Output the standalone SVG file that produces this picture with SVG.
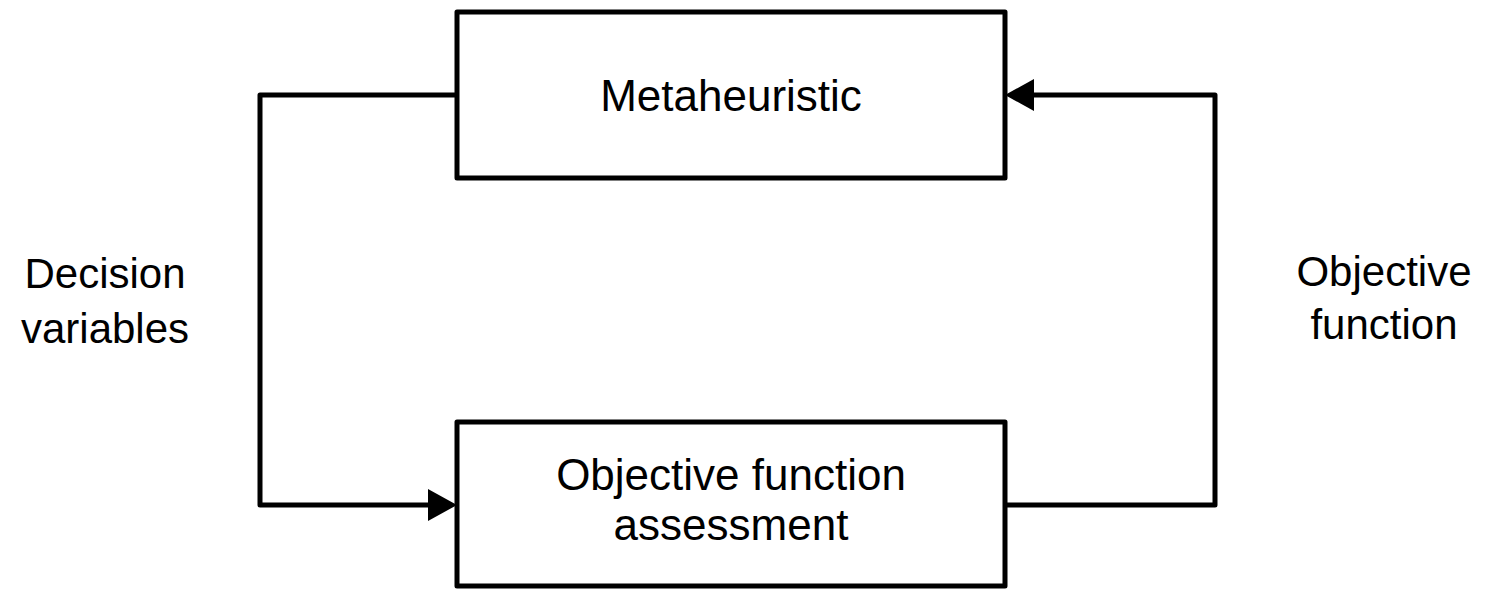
<svg xmlns="http://www.w3.org/2000/svg" width="1490" height="592" viewBox="0 0 1490 592">
  <style>
    .box { fill: #ffffff; stroke: #000000; stroke-width: 5; stroke-linejoin: round; }
    .wire { fill: none; stroke: #000000; stroke-width: 5; stroke-linejoin: round; }
    .head { fill: #000000; }
    text { font-family: "Liberation Sans", Arial, sans-serif; font-size: 42px; fill: #000000; text-anchor: middle; }
    .inbox { font-size: 44px; }
  </style>
  <rect width="1490" height="592" fill="#ffffff"/>

  <g id="connectors">
    <!-- decision variables: metaheuristic -> assessment -->
    <polyline class="wire" points="457,95 260,95 260,505 430,505"/>
    <polygon class="head" points="457,505 428,489 428,521"/>
    <!-- objective function value: assessment -> metaheuristic -->
    <polyline class="wire" points="1005,505 1215,505 1215,95 1032,95"/>
    <polygon class="head" points="1005,95 1034,79 1034,111"/>
  </g>

  <g id="metaheuristic">
    <rect class="box" x="457" y="12" width="548" height="166"/>
    <text class="inbox" x="731" y="111">Metaheuristic</text>
  </g>

  <g id="assessment">
    <rect class="box" x="457" y="422" width="548" height="164"/>
    <text class="inbox" x="731" y="490">Objective function</text>
    <text class="inbox" x="731" y="540">assessment</text>
  </g>

  <g id="label-decision">
    <text x="105" y="288">Decision</text>
    <text x="105" y="343">variables</text>
  </g>

  <g id="label-objective">
    <text x="1384" y="286">Objective</text>
    <text x="1384" y="339">function</text>
  </g>
</svg>
